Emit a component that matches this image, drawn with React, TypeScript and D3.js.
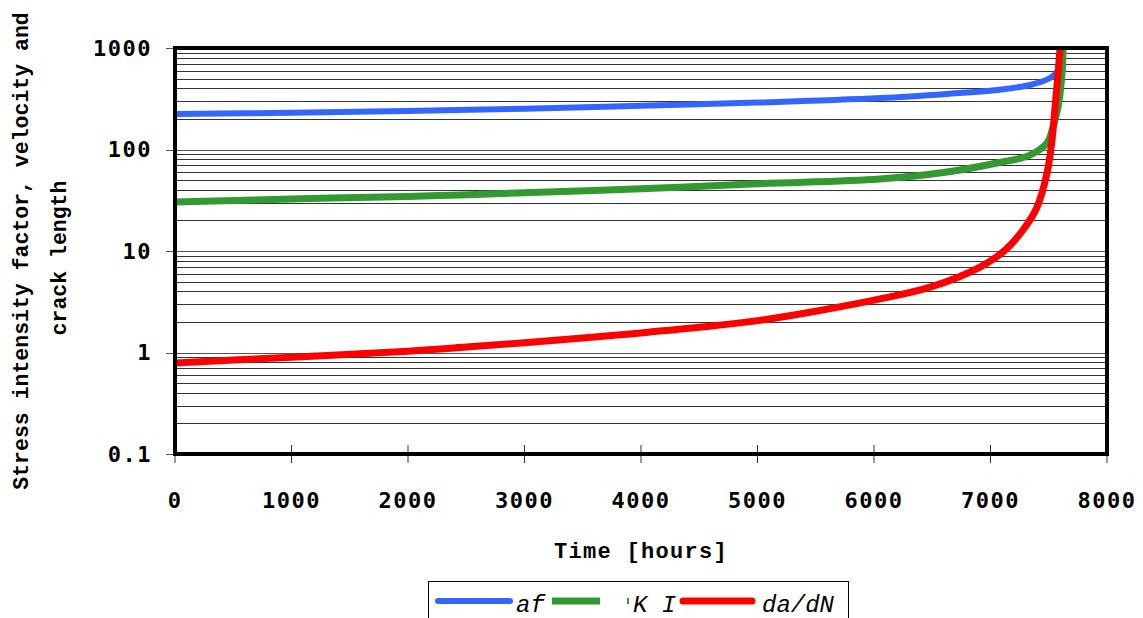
import React from "react";
import * as d3 from "d3";

const afHours = [0, 1000, 2000, 3000, 4000, 5000, 6052, 6627, 7056, 7339, 7511, 7571, 7597, 7623];
const afValues = [224, 230, 240, 252, 270, 290, 321, 353, 386, 432, 506, 581, 760, 1000];

const kiHours = [0, 1000, 2000, 2446, 3000, 4000, 5000, 6052, 6627, 7056, 7339, 7485, 7537, 7580, 7614, 7623];
const kiValues = [30.4, 32.5, 34.5, 35.6, 37.5, 41, 46, 51.2, 60, 73.6, 88, 116, 167, 263, 567, 1000];

const dadnHours = [0, 1000, 2000, 2500, 3000, 3500, 4000, 4500, 5000, 5500, 6052, 6481, 6910, 7125, 7279, 7399, 7485, 7528, 7554, 7580, 7597];
const dadnValues = [0.79, 0.9, 1.03, 1.13, 1.25, 1.39, 1.56, 1.77, 2.06, 2.55, 3.37, 4.4, 6.95, 10.2, 16.1, 27, 58.6, 124, 263, 567, 1000];

const xTicks = [0, 1000, 2000, 3000, 4000, 5000, 6000, 7000, 8000];
const yTicks = [0.1, 1, 10, 100, 1000];
const yTickLabels = ["0.1", "1", "10", "100", "1000"];

const yTitle1 = "Stress intensity factor, velocity and";
const yTitle2 = "crack length";
const xTitle = "Time [hours]";

const seriesNames = ["af", "K I", "da/dN"];
const seriesColors = ["#3366FF", "#339933", "#FF0000"];

export default function App() {
  const W = 1143, H = 618;
  const left = 175, right = 1107, top = 48, bottom = 454;
  const x = d3.scaleLinear().domain([0, 8000]).range([left, right]);
  const y = d3.scaleLog().domain([0.1, 1000]).range([bottom, top]);

  const minor: number[] = [];
  for (let e = -1; e < 3; e++) {
    for (let m = 2; m <= 9; m++) minor.push(m * Math.pow(10, e));
  }

  const line = d3
    .line<[number, number]>()
    .x((d) => x(d[0]))
    .y((d) => y(d[1]))
    .curve(d3.curveCatmullRom.alpha(0.5));

  const series = [
    { h: afHours, v: afValues, w: 6, cap: "round" },
    { h: kiHours, v: kiValues, w: 7, cap: "butt" },
    { h: dadnHours, v: dadnValues, w: 7, cap: "round" },
  ];

  const mono = "'Liberation Mono', 'Courier New', monospace";
  const sansMono = "'DejaVu Sans Mono', monospace";

  return (
    <svg width={W} height={H} style={{ position: "absolute", left: 0, top: 0, background: "#fff" }}>
      <rect x={0} y={0} width={W} height={H} fill="#fff" />
      {minor.map((v, i) => (
        <line key={"mn" + i} x1={left} x2={right} y1={Math.round(y(v)) + 0.5} y2={Math.round(y(v)) + 0.5} stroke="#333" strokeWidth={1} />
      ))}
      {yTicks.map((v, i) => (
        <line key={"mj" + i} x1={left - 9} x2={right} y1={Math.round(y(v)) + 0.5} y2={Math.round(y(v)) + 0.5} stroke="#555" strokeWidth={1} />
      ))}
      {xTicks.map((v, i) => (
        <line key={"xt" + i} x1={x(v)} x2={x(v)} y1={bottom - 9} y2={bottom + 9} stroke="#333" strokeWidth={1} />
      ))}
      <defs>
        <clipPath id="plotclip">
          <rect x={left} y={top} width={right - left} height={bottom - top} />
        </clipPath>
      </defs>
      <g clipPath="url(#plotclip)">
        {series.map((s, i) => (
          <path
            key={"s" + i}
            d={line(s.h.map((h, j) => [h, s.v[j]] as [number, number])) || ""}
            fill="none"
            stroke={seriesColors[i]}
            strokeWidth={s.w}
            strokeLinecap={s.cap as any}
            strokeLinejoin="round"
          />
        ))}
      </g>
      <rect x={left} y={top} width={right - left} height={bottom - top} fill="none" stroke="#000" strokeWidth={4} />
      {yTicks.map((v, i) => (
        <text key={"yl" + i} x={152} y={y(v)} dy="0.35em" textAnchor="end" fontFamily={sansMono} fontWeight="bold" fontSize={22} letterSpacing={1.5}>
          {yTickLabels[i]}
        </text>
      ))}
      {xTicks.map((v, i) => (
        <text key={"xl" + i} x={x(v)} y={508} textAnchor="middle" fontFamily={sansMono} fontWeight="bold" fontSize={22} letterSpacing={1.5}>
          {String(v)}
        </text>
      ))}
      <text x={641} y={558} textAnchor="middle" fontFamily={mono} fontWeight="bold" fontSize={22} letterSpacing={1.3}>
        {xTitle}
      </text>
      <text transform="translate(28,251) rotate(-90)" textAnchor="middle" fontFamily={mono} fontWeight="bold" fontSize={21.5}>
        {yTitle1}
      </text>
      <text transform="translate(66,258) rotate(-90)" textAnchor="middle" fontFamily={mono} fontWeight="bold" fontSize={21.5}>
        {yTitle2}
      </text>
      <rect x={428.5} y={581.5} width={420} height={60} fill="#fff" stroke="#000" strokeWidth={1} />
      <line x1={438} x2={510} y1={601} y2={601} stroke={seriesColors[0]} strokeWidth={6} strokeLinecap="round" />
      <text x={516} y={612} fontFamily={mono} fontStyle="italic" fontSize={24}>{seriesNames[0]}</text>
      <line x1={552} x2={600} y1={601} y2={601} stroke={seriesColors[1]} strokeWidth={7} />
      <line x1={628} x2={628} y1={598} y2={604} stroke={seriesColors[1]} strokeWidth={2} />
      <text x={633} y={612} fontFamily={mono} fontStyle="italic" fontSize={24}>{seriesNames[1]}</text>
      <line x1={683} x2={752} y1={601} y2={601} stroke={seriesColors[2]} strokeWidth={7} strokeLinecap="round" />
      <text x={762} y={612} fontFamily={mono} fontStyle="italic" fontSize={24}>{seriesNames[2]}</text>
    </svg>
  );
}
